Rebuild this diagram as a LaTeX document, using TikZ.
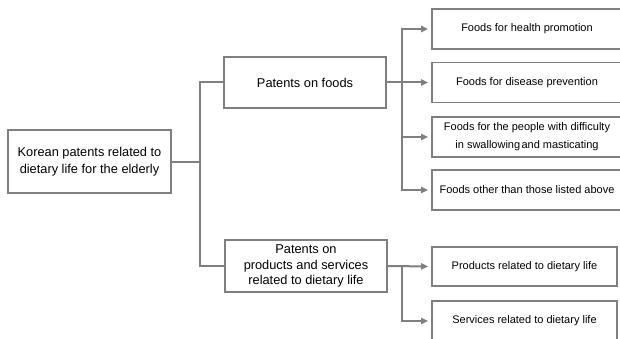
\documentclass[tikz,border=0pt]{standalone}
\usepackage{fontspec}
\setmainfont{Liberation Sans}
\usetikzlibrary{arrows.meta}
\definecolor{linegray}{HTML}{7F7F7F}
\begin{document}
\begin{tikzpicture}[x=1pt,y=-1pt,
  box/.style={draw=linegray, line width=1.6pt, inner sep=0pt, align=center, text=black},
  bigtext/.style={font=\fontsize{12.8}{16}\selectfont},
  smalltext/.style={font=\fontsize{11}{18}\selectfont},
  conn/.style={draw=linegray, line width=2pt},
  arr/.style={conn, -{Triangle[length=7pt,width=6pt]}, shorten >=3pt}]
\useasboundingbox (0,0) rectangle (620,339);
\clip (0,0) rectangle (620,339);
\fill[white] (0,0) rectangle (620,339);

\node[box, bigtext, minimum width=163pt, minimum height=63pt, font=\fontsize{12.8}{17}\selectfont] (root) at (89.5,161.5) {Korean patents related to\\dietary life for the elderly};
\node[box, bigtext, minimum width=162pt, minimum height=51pt] (foods) at (305,82.5) {Patents on foods};
\node[box, bigtext, minimum width=162pt, minimum height=52pt, font=\fontsize{12.8}{15.5}\selectfont] (prod) at (306,266) {Patents on\\products and services\\related to dietary life};

\node[box, smalltext, minimum width=190pt, minimum height=40pt] (l1) at (527,29) {Foods for health promotion};
\node[box, smalltext, minimum width=190pt, minimum height=40pt] (l2) at (527,82.5) {Foods for disease prevention};
\node[box, smalltext, minimum width=190pt, minimum height=40pt] (l3) at (527,137) {Foods for the people with difficulty\\in swallowing\hspace{0.12em}and masticating};
\node[box, smalltext, minimum width=190pt, minimum height=40pt] (l4) at (527,190) {Foods other than those listed above};
\node[box, smalltext, minimum width=185pt, minimum height=39pt] (p1) at (524.5,266.5) {Products related to dietary life};
\node[box, smalltext, minimum width=185pt, minimum height=40pt] (s1) at (524.5,321) {Services related to dietary life};

\coordinate (tA) at (200,161.5);
\coordinate (fB) at (402,82.5);
\coordinate (pB) at (402,266.5);

\draw[conn] (root.east) -- (tA);
\draw[conn] (foods.west) -| (tA) |- (prod.west);

\draw[arr] (foods.east) -- (l2.west);
\draw[arr] (fB) |- (l1.west);
\draw[arr] (fB) |- (l3.west);
\draw[arr] (fB) |- (l4.west);

\draw[arr] (prod.east) -- (p1.west);
\draw[arr] (pB) |- (s1.west);
\end{tikzpicture}
\end{document}
